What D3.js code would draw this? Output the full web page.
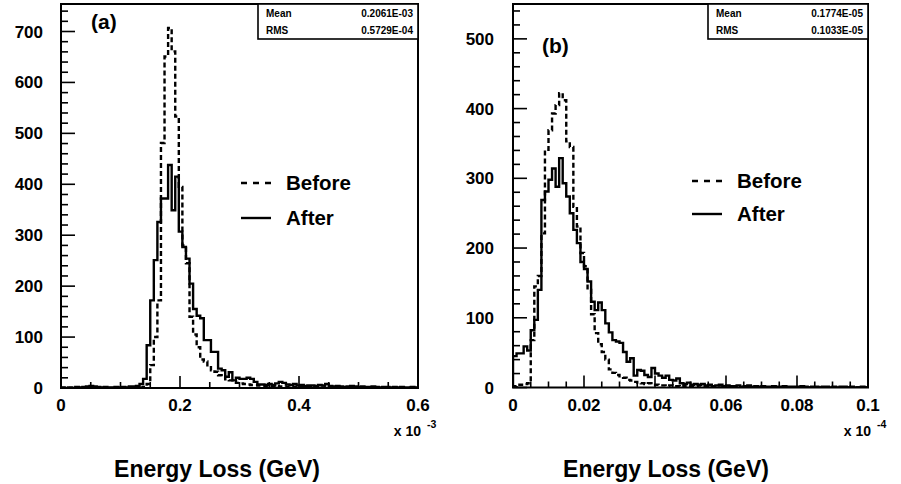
<!DOCTYPE html>
<html><head><meta charset="utf-8">
<script src="https://cdn.jsdelivr.net/npm/d3@7"></script>
<style>
body{margin:0;background:#fff}
text{font-family:"Liberation Sans",Arial,Helvetica,sans-serif;font-weight:bold;fill:#000}
</style>
</head><body>
<svg id="c" width="901" height="484"></svg>
<script>
// ---------- DATA ----------
// panel (a): 100 bins over 0 .. 0.6 (x 10^-3 GeV)
const beforeA = [0,0,0,0,0,0,0,0,0,0, 0,0,0,0,0,0,0,0,0,0,
  0,0,1,2,8,45,100,172,481,651, 707,661,533,395,280,245,140,105,80,56,
  52,41,35,32,25,22,17,15,12,10, 9,8,7,6,6,5,5,4,4,3,
  4,3,3,2,3,2,2,2,1,2, 1,2,1,1,2,1,1,1,0,1, 1,1,0,1,1,0,1,0,1,0, 1,0,0,1,0,1,0,0,1,0];
const afterA = [1,0,1,0,2,1,2,3,4,3, 2,1,2,1,1,2,1,2,1,3,
  3,4,8,18,84,172,251,326,372,372, 438,349,415,307,277,254,205,155,142,137,
  94,94,71,71,38,35,22,31,15,20, 18,18,20,18,12,7,7,6,8,6,
  9,12,10,7,6,8,5,6,4,5, 5,4,6,5,8,4,3,4,3,2, 3,4,3,2,3,2,2,3,2,1, 2,2,1,2,1,2,1,1,2,1];
// panel (b): 100 bins over 0 .. 0.1 (x 10^-4 GeV)
const beforeB = [2,4,4,5,6,68,145,160,221,341, 369,393,405,422,412,353,345,259,231,193,
  174,140,105,78,62,51,40,26,21,18, 16,14,11,10,8,7,6,5,6,4,
  4,3,3,2,3,2,2,1,2,1, 1,1,0,1,1,0,1,0,0,1, 0,0,1,0,0,0,1,0,0,0,
  0,0,0,1,0,0,0,0,0,0, 0,0,0,0,0,0,0,0,0,0, 0,0,0,0,0,0,0,0,0,0];
const afterB = [45,49,49,59,53,82,97,140,269,281, 298,314,288,329,293,274,250,226,207,180,
  170,152,123,111,122,111,92,79,68,66, 64,51,37,42,17,25,24,18,15,28,
  20,17,14,17,11,10,13,6,5,7, 4,5,4,5,3,4,2,3,4,2,
  3,2,2,3,1,2,3,1,2,1, 2,1,1,2,1,1,2,1,1,1, 1,2,1,0,1,1,0,1,1,0, 1,0,1,1,0,1,0,0,1,0];

const yTicksA = [0,100,200,300,400,500,600,700];
const xTicksA = [0,0.2,0.4,0.6];
const xTickLabelsA = ["0","0.2","0.4","0.6"];
const yTicksB = [0,100,200,300,400,500];
const xTicksB = [0,0.02,0.04,0.06,0.08,0.1];
const xTickLabelsB = ["0","0.02","0.04","0.06","0.08","0.1"];
const statsA = [["Mean","0.2061E-03"],["RMS","0.5729E-04"]];
const statsB = [["Mean","0.1774E-05"],["RMS","0.1033E-05"]];
const legendLabels = ["Before","After"];

// ---------- DRAW ----------
const svg = d3.select("#c");

function panel(o){
  const g = svg.append("g");
  const x = d3.scaleLinear().domain(o.xDomain).range([o.left,o.right]);
  const y = d3.scaleLinear().domain(o.yDomain).range([o.bottom,o.top]);
  const n = o.after.length;
  const bw = (o.xDomain[1]-o.xDomain[0])/n;
  const clipId = "clip"+o.id;
  svg.append("clipPath").attr("id",clipId).append("rect")
    .attr("x",o.left).attr("y",o.top).attr("width",o.right-o.left).attr("height",o.bottom-o.top);

  const line = d3.line().x(d=>x(d[0])).y(d=>y(d[1])).curve(d3.curveStepAfter);
  function pts(arr){
    const p = [[o.xDomain[0],0]];
    arr.forEach((v,i)=>p.push([o.xDomain[0]+i*bw, v]));
    p.push([o.xDomain[0]+n*bw, arr[n-1]]);
    p.push([o.xDomain[0]+n*bw, 0]);
    return p;
  }
  // dashed "Before", solid "After"
  g.append("path").attr("d",line(pts(o.before))).attr("fill","none").attr("stroke","#000")
    .attr("stroke-width",2.4).attr("stroke-dasharray","5,3").attr("clip-path",`url(#${clipId})`);
  g.append("path").attr("d",line(pts(o.after))).attr("fill","none").attr("stroke","#000")
    .attr("stroke-width",2.4).attr("clip-path",`url(#${clipId})`);

  // y ticks (inward)
  const yMinor = d3.range(o.yDomain[0], o.yDomain[1], 20);
  yMinor.forEach(v=>{
    const major = v % 100 === 0;
    g.append("line").attr("x1",o.left).attr("x2",o.left+(major?14:7))
      .attr("y1",y(v)).attr("y2",y(v)).attr("stroke","#000").attr("stroke-width",1.6);
  });
  o.yTicks.forEach(v=>{
    g.append("text").attr("x",o.yLabelX).attr("y",y(v)+6).attr("text-anchor","end")
      .style("font-size","17px").text(v);
  });
  // x ticks
  const nm = Math.round((o.xDomain[1]-o.xDomain[0])/o.xMinor);
  for(let i=0;i<=nm;i++){
    const v = o.xDomain[0]+i*o.xMinor;
    const major = o.xTicks.some(t=>Math.abs(t-v)<1e-9);
    g.append("line").attr("x1",x(v)).attr("x2",x(v))
      .attr("y1",o.bottom).attr("y2",o.bottom-(major?12:6)).attr("stroke","#000").attr("stroke-width",1.6);
  }
  o.xTicks.forEach((v,i)=>{
    g.append("text").attr("x",x(v)).attr("y",o.bottom+23).attr("text-anchor","middle")
      .style("font-size","17px").text(o.xTickLabels[i]);
  });
  // frame
  g.append("rect").attr("x",o.left).attr("y",o.top).attr("width",o.right-o.left).attr("height",o.bottom-o.top)
    .attr("fill","none").attr("stroke","#000").attr("stroke-width",2);

  // stats box
  const sb = g.append("g");
  sb.append("rect").attr("x",o.right-160).attr("y",o.top).attr("width",160).attr("height",35)
    .attr("fill","#fff").attr("stroke","#000").attr("stroke-width",1.6);
  o.stats.forEach((r,i)=>{
    sb.append("text").attr("x",o.right-152).attr("y",o.top+13+i*17).style("font-size","10px").text(r[0]);
    sb.append("text").attr("x",o.right-5).attr("y",o.top+13+i*17).attr("text-anchor","end").style("font-size","10px").text(r[1]);
  });

  // panel tag
  g.append("text").attr("x",o.tagX).attr("y",o.tagY).style("font-size","21px").text(o.tag);

  // legend
  legendLabels.forEach((lab,i)=>{
    const ly = o.legY[i];
    g.append("line").attr("x1",o.legX).attr("x2",o.legX+30).attr("y1",ly).attr("y2",ly)
      .attr("stroke","#000").attr("stroke-width",2.4).attr("stroke-dasharray", i===0?"6,6":null);
    g.append("text").attr("x",o.legX+45).attr("y",ly+7).style("font-size","20.5px").text(lab);
  });

  // exponent
  g.append("text").attr("x",o.right+3).attr("y",o.bottom+48).attr("text-anchor","end")
    .style("font-size","14px").text("x 10");
  g.append("text").attr("x",o.right+9).attr("y",o.bottom+40)
    .style("font-size","10.5px").text(o.exp);

  // axis title
  g.append("text").attr("x",o.titleX).attr("y",477).attr("text-anchor","middle")
    .style("font-size","23px").text("Energy Loss (GeV)");
}

panel({id:"A", left:61, right:418, top:4, bottom:388, xDomain:[0,0.6], yDomain:[0,754],
  before:beforeA, after:afterA, yTicks:yTicksA, xTicks:xTicksA, xTickLabels:xTickLabelsA, xMinor:0.05,
  yLabelX:43, stats:statsA, tag:"(a)", tagX:91, tagY:29, legX:241, legY:[183,218], exp:"-3", titleX:217});
panel({id:"B", left:513, right:868, top:4, bottom:387.5, xDomain:[0,0.1], yDomain:[0,550],
  before:beforeB, after:afterB, yTicks:yTicksB, xTicks:xTicksB, xTickLabels:xTickLabelsB, xMinor:0.005,
  yLabelX:494, stats:statsB, tag:"(b)", tagX:542, tagY:53, legX:692, legY:[181,214], exp:"-4", titleX:666});
</script>
</body></html>
